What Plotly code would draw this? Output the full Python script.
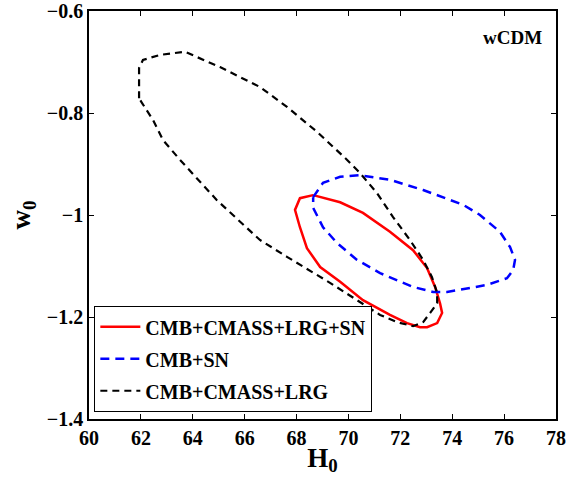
import plotly.graph_objects as go

# ---- data ----
black_h0 = [61.93, 61.93, 62.08, 62.74, 63.70, 65.05, 66.59, 67.63, 68.79, 69.95, 70.45, 71.10,
            71.72, 72.37, 72.88, 73.22, 73.42, 73.42, 73.15, 72.88, 72.49, 71.87, 71.22, 70.33,
            69.29, 67.63, 66.59, 64.93, 63.51, 62.85, 62.47, 62.04, 61.93]
black_w0 = [-0.771, -0.712, -0.696, -0.686, -0.680, -0.710, -0.749, -0.788, -0.837, -0.892, -0.918, -0.957,
            -1.004, -1.049, -1.088, -1.122, -1.153, -1.173, -1.192, -1.210, -1.218, -1.210, -1.196, -1.167,
            -1.133, -1.082, -1.049, -0.971, -0.892, -0.853, -0.814, -0.780, -0.771]

red_h0 = [68.64, 69.68, 70.56, 71.60, 72.49, 73.03, 73.34, 73.53, 73.61, 73.42, 73.03, 72.76,
          72.26, 71.60, 70.56, 69.68, 68.91, 68.40, 68.13, 67.94, 68.13, 68.64]
red_w0 = [-0.961, -0.975, -0.996, -1.033, -1.069, -1.104, -1.141, -1.173, -1.192, -1.212, -1.220, -1.220,
          -1.212, -1.196, -1.167, -1.131, -1.102, -1.065, -1.024, -0.990, -0.967, -0.961]

blue_h0 = [68.64, 69.02, 69.68, 70.45, 71.60, 72.88, 74.42, 75.07, 75.84, 76.23, 76.42, 76.35,
           76.11, 75.34, 74.69, 73.80, 73.26, 72.49, 71.22, 70.33, 69.56, 69.02, 68.64, 68.64]
blue_w0 = [-0.965, -0.937, -0.925, -0.922, -0.931, -0.951, -0.980, -1.000, -1.033, -1.063, -1.088, -1.108,
           -1.124, -1.137, -1.143, -1.151, -1.151, -1.141, -1.114, -1.088, -1.055, -1.024, -0.986, -0.965]

x_ticks = [60, 62, 64, 66, 68, 70, 72, 74, 76, 78]
y_ticks = [-0.6, -0.8, -1.0, -1.2, -1.4]
y_ticklabels = ["\u22120.6", "\u22120.8", "\u22121", "\u22121.2", "\u22121.4"]

FONT = "Liberation Serif"

fig = go.Figure()
fig.add_trace(go.Scatter(x=red_h0, y=red_w0, mode="lines", name="<b>CMB+CMASS+LRG+SN</b>",
                         legendgroup="a",
                         line=dict(color="#ff0000", width=2.5, dash="solid")))
fig.add_trace(go.Scatter(x=blue_h0, y=blue_w0, mode="lines", name="<b>CMB+SN</b>",
                         legendgroup="b",
                         line=dict(color="#0000ff", width=2.5, dash="9px,6px")))
fig.add_trace(go.Scatter(x=black_h0, y=black_w0, mode="lines", name="<b>CMB+CMASS+LRG</b>",
                         legendgroup="c",
                         line=dict(color="#000000", width=2.2, dash="7px,5px")))

axis_common = dict(showgrid=False, zeroline=False, showline=True, linecolor="black", linewidth=1.5,
                   mirror="ticks", ticks="inside", ticklen=5, tickwidth=1, tickcolor="black",
                   automargin=False, ticklabeloverflow="allow",
                   tickfont=dict(family=FONT, size=20, color="black", weight="bold"))

fig.update_xaxes(range=[60, 78], tickvals=x_ticks, ticktext=[f"<b>{v}</b>" for v in x_ticks],
                 title=dict(text="<b>H<sub>0</sub></b>", font=dict(family=FONT, size=27, color="black"),
                            standoff=0),
                 **axis_common)
fig.update_yaxes(range=[-1.4, -0.6], tickvals=y_ticks, ticktext=[f"<b>{t}</b>" for t in y_ticklabels],
                 title=dict(text="<b>w<sub>0</sub></b>", font=dict(family=FONT, size=27, color="black"),
                            standoff=8),
                 **axis_common)

fig.add_annotation(text="<b>wCDM</b>", xref="paper", yref="paper", x=0.975, y=0.935,
                   xanchor="right", yanchor="middle", showarrow=False,
                   font=dict(family=FONT, size=19, color="black"))

fig.update_layout(
    width=571, height=484,
    margin=dict(l=89, r=15, t=11, b=65),
    paper_bgcolor="white", plot_bgcolor="white",
    showlegend=True,
    legend=dict(x=0.011, y=0.017, xanchor="left", yanchor="bottom",
                bgcolor="white", bordercolor="black", borderwidth=1.2,
                font=dict(family=FONT, size=20, color="black"),
                tracegroupgap=3, itemwidth=40),
)

fig.write_html("out.html", config={"displayModeBar": False},
               post_script="document.body.style.margin='0';document.body.style.overflow='hidden';")
